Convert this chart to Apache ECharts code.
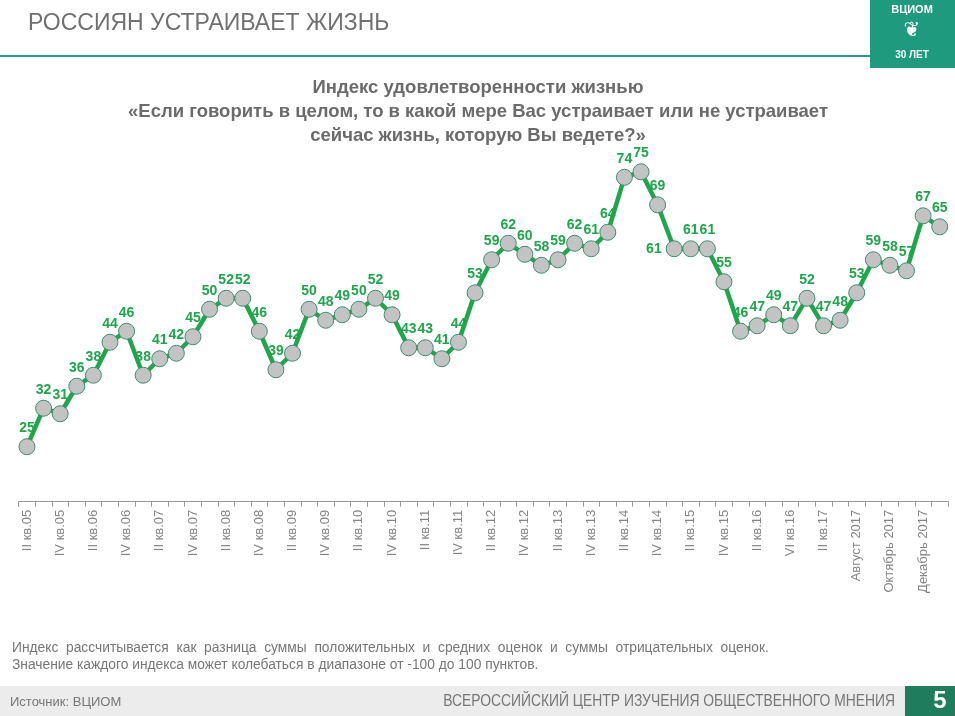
<!DOCTYPE html>
<html>
<head>
    <meta charset="utf-8">
    <script src="https://cdn.jsdelivr.net/npm/echarts@6/dist/echarts.min.js"></script>
    <style>
        html, body { margin: 0; padding: 0; background: #fff; }
        #main { width: 955px; height: 716px; }
    </style>
</head>
<body>
<div id="main"></div>
<script type="text/javascript">
    // periods (quarters, then months)
    var categories = [
        'II кв.05', 'III кв.05', 'IV кв.05',
        'I кв.06', 'II кв.06', 'III кв.06', 'IV кв.06',
        'I кв.07', 'II кв.07', 'III кв.07', 'IV кв.07',
        'I кв.08', 'II кв.08', 'III кв.08', 'IV кв.08',
        'I кв.09', 'II кв.09', 'III кв.09', 'IV кв.09',
        'I кв.10', 'II кв.10', 'III кв.10', 'IV кв.10',
        'I кв.11', 'II кв.11', 'III кв.11', 'IV кв.11',
        'I кв.12', 'II кв.12', 'III кв.12', 'IV кв.12',
        'I кв.13', 'II кв.13', 'III кв.13', 'IV кв.13',
        'I кв.14', 'II кв.14', 'III кв.14', 'IV кв.14',
        'I кв.15', 'II кв.15', 'III кв.15', 'IV кв.15',
        'I кв.16', 'II кв.16', 'III кв.16', 'VI кв.16',
        'I кв.17', 'II кв.17', 'Июль 2017', 'Август 2017', 'Сентябрь 2017',
        'Октябрь 2017', 'Ноябрь 2017', 'Декабрь 2017', 'Январь 2018'
    ];
    // index of life satisfaction
    var values = [
        25, 32, 31, 36, 38, 44, 46, 38, 41, 42, 45, 50, 52, 52, 46, 39,
        42, 50, 48, 49, 50, 52, 49, 43, 43, 41, 44, 53, 59, 62, 60, 58,
        59, 62, 61, 64, 74, 75, 69, 61, 61, 61, 55, 46, 47, 49, 47, 52,
        47, 48, 53, 59, 58, 57, 67, 65
    ];

    // a few labels sit beside the point instead of above it
    var labelLeft = { 39: true };

    var green = '#1fa64c';
    var teal = '#1e9b7e';

    var seriesData = values.map(function (v, i) {
        if (labelLeft[i]) {
            return { value: v, label: { position: 'left', distance: 4 } };
        }
        return v;
    });

    var myChart = echarts.init(document.getElementById('main'));

    var option = {
        backgroundColor: '#fff',
        animation: false,
        grid: {
            left: 18.7,
            right: 7,
            top: 144.3,
            bottom: 214.3,
            containLabel: false
        },
        xAxis: {
            type: 'category',
            data: categories,
            boundaryGap: true,
            axisLine: { lineStyle: { color: '#999', width: 1 } },
            axisTick: { show: true, length: 5, interval: 0, lineStyle: { color: '#999' } },
            axisLabel: {
                interval: 1,
                rotate: 90,
                margin: 8,
                fontFamily: 'Liberation Sans',
                fontSize: 13,
                color: '#858585'
            }
        },
        yAxis: {
            type: 'value',
            min: 15,
            max: 80,
            show: false
        },
        series: [{
            type: 'line',
            data: seriesData,
            showAllSymbol: true,
            lineStyle: { color: green, width: 4.5 },
            symbol: 'circle',
            symbolSize: 16,
            itemStyle: { color: '#c3c3c3', borderColor: '#3c8f6c', borderWidth: 1 },
            label: {
                show: true,
                position: 'top',
                distance: 3,
                fontFamily: 'Liberation Sans',
                fontSize: 14,
                fontWeight: 'bold',
                color: green
            },
            labelLayout: { hideOverlap: false },
            z: 3
        }],
        graphic: [
            {
                type: 'text', left: 28, top: 12,
                style: {
                    text: 'РОССИЯН УСТРАИВАЕТ ЖИЗНЬ',
                    font: '23px "Liberation Sans"',
                    fill: '#707070'
                }
            },
            {
                type: 'rect', shape: { x: 0, y: 55, width: 870, height: 2 },
                style: { fill: '#2a9a8a' }
            },
            {
                type: 'text', x: 478, y: 76,
                style: {
                    text: 'Индекс удовлетворенности жизнью\n«Если говорить в целом, то в какой мере Вас устраивает или не устраивает\nсейчас жизнь, которую Вы ведете?»',
                    font: 'bold 18.5px "Liberation Sans"',
                    fill: '#6b6b6b',
                    lineHeight: 24,
                    align: 'center'
                }
            },
            {
                type: 'rect', shape: { x: 870, y: 0, width: 85, height: 68 },
                style: { fill: teal }
            },
            {
                type: 'text', x: 912, y: 4,
                style: {
                    text: 'ВЦИОМ', font: 'bold 11px "Liberation Sans"',
                    fill: '#fff', align: 'center'
                }
            },
            {
                type: 'text', x: 912, y: 21,
                style: {
                    text: '❦', font: '20px "DejaVu Sans"',
                    fill: '#fff', align: 'center'
                }
            },
            {
                type: 'text', x: 912, y: 50,
                style: {
                    text: '30 ЛЕТ', font: 'bold 10px "Liberation Sans"',
                    fill: '#fff', align: 'center'
                }
            },
            {
                type: 'text', left: 12, top: 640,
                style: {
                    text: 'Индекс  рассчитывается  как  разница  суммы  положительных  и  средних  оценок  и  суммы  отрицательных  оценок.\nЗначение каждого индекса может колебаться в диапазоне от -100 до 100 пунктов.',
                    font: '13.8px "Liberation Sans"',
                    fill: '#777',
                    lineHeight: 17
                }
            },
            {
                type: 'rect', shape: { x: 0, y: 686, width: 955, height: 30 },
                style: { fill: '#ececec' }
            },
            {
                type: 'text', left: 10, top: 696,
                style: {
                    text: 'Источник: ВЦИОМ',
                    font: '13px "Liberation Sans"',
                    fill: '#777'
                }
            },
            {
                type: 'text', x: 895, y: 693, scaleX: 0.816, originX: 0,
                style: {
                    text: 'ВСЕРОССИЙСКИЙ ЦЕНТР ИЗУЧЕНИЯ ОБЩЕСТВЕННОГО МНЕНИЯ',
                    font: '17px "Liberation Sans"',
                    fill: '#777',
                    align: 'right'
                }
            },
            {
                type: 'rect', shape: { x: 905, y: 686, width: 50, height: 30 },
                style: { fill: '#1f7d5e' }
            },
            {
                type: 'text', x: 940, y: 689,
                style: {
                    text: '5', font: 'bold 24px "Liberation Sans"',
                    fill: '#fff', align: 'center'
                }
            }
        ]
    };

    myChart.setOption(option);

    window.onresize = function () {
        myChart.resize();
    };
</script>
</body>
</html>
